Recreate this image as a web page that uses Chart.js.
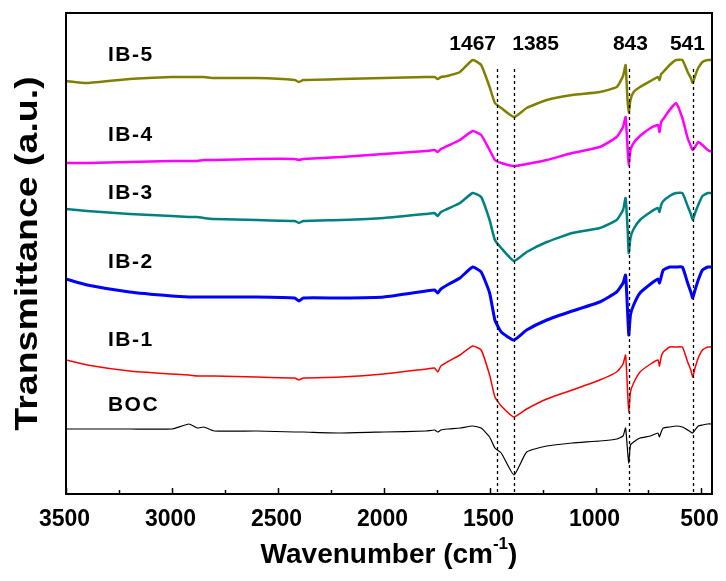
<!DOCTYPE html>
<html>
<head>
<meta charset="utf-8">
<script src="https://cdn.jsdelivr.net/npm/chart.js@4"></script>
<style>
  html, body { margin: 0; padding: 0; background: #fff; }
</style>
</head>
<body>
<canvas id="grafico" width="726" height="581"></canvas>
<script>
// números de onda (cm-1), grade comum a todos os espectros
const numerosOnda = [3500, 3400, 3200, 3000, 2920, 2880, 2850, 2800, 2600, 2420, 2400, 2380,
  2200, 2000, 1800, 1760, 1745, 1730, 1700, 1640, 1580, 1540, 1500, 1475,
  1445, 1385, 1325, 1230, 1110, 980, 900, 870, 858, 849, 843, 835,
  820, 790, 740, 705, 698, 690, 680, 650, 620, 590, 565, 550,
  541, 530, 515, 495, 470, 450];

// transmitância (u.a., já com deslocamento vertical de cada curva)
const ib5 = [413, 411, 415, 417, 417, 417, 417, 416, 416, 414, 412, 414,
  415, 416, 417, 417, 415, 417, 418, 422, 434, 429, 407, 391,
  386, 377, 386, 394, 399, 402, 407, 418, 429, 394, 381, 394,
  402, 407, 413, 417, 414, 420, 422, 429, 434, 434, 422, 416,
  411, 418, 426, 432, 434, 434];
const ib4 = [331, 331, 332, 333, 333, 333, 334, 334, 335, 335, 334, 335,
  337, 340, 343, 344, 342, 345, 348, 354, 363, 359, 344, 334,
  331, 328, 330, 334, 341, 347, 357, 367, 377, 347, 329, 344,
  351, 358, 366, 369, 362, 372, 375, 384, 391, 376, 356, 348,
  344, 347, 352, 349, 344, 342];
const ib3 = [285, 283, 280, 278, 277, 277, 276, 275, 274, 273, 271, 273,
  274, 276, 280, 281, 278, 282, 285, 291, 301, 297, 274, 254,
  246, 233, 242, 252, 261, 266, 274, 284, 296, 267, 241, 256,
  265, 274, 282, 286, 282, 289, 293, 298, 301, 301, 288, 280,
  274, 281, 289, 298, 301, 301];
const ib2 = [215, 209, 202, 198, 197, 197, 197, 197, 197, 196, 193, 196,
  196, 197, 203, 204, 201, 205, 209, 216, 227, 222, 201, 174,
  162, 154, 164, 174, 183, 192, 202, 211, 219, 184, 159, 179,
  189, 201, 210, 215, 211, 217, 224, 227, 227, 227, 211, 202,
  196, 204, 214, 224, 227, 227];
const ib1 = [134, 129, 123, 120, 119, 118, 118, 118, 117, 116, 114, 116,
  117, 120, 125, 126, 122, 128, 132, 139, 148, 144, 119, 97,
  88, 77, 85, 95, 104, 114, 122, 130, 139, 104, 82, 102,
  111, 122, 130, 134, 128, 137, 142, 147, 147, 147, 132, 124,
  117, 126, 136, 144, 147, 147];
const boc = [65, 65, 65, 65, 70, 66, 67, 63, 63, 62, 62, 62,
  61, 62, 63, 64, 62, 64, 65, 66, 68, 66, 57, 46,
  41, 19, 42, 48, 51, 53, 55, 58, 66, 44, 31, 49,
  52, 56, 58, 61, 57, 62, 66, 67, 68, 67, 64, 62,
  61, 64, 68, 69, 70, 70];

const nomes = ['IB-5', 'IB-4', 'IB-3', 'IB-2', 'IB-1', 'BOC'];
const series = [ib5, ib4, ib3, ib2, ib1, boc];
const cores = ['#808000', '#ff00ff', '#008080', '#0000ff', '#ff0000', '#000000'];
const espessuras = [2.5, 2.5, 2.5, 3, 1.5, 1.2];

// posição (u.a.) dos rótulos de cada amostra
const rotuloX = 3302;
const rotuloY = [439, 359, 301, 232, 154, 89];

// bandas marcadas com linha pontilhada
const picos = [1467, 1385, 843, 541];
const picosTextoX = [1580, 1283, 835, 566];
const picosTextoY = 450;
const topoPicos = 425;

// marcas do eixo x
const ticksX = [3500, 3250, 3000, 2750, 2500, 2250, 2000, 1750, 1500, 1250, 1000, 750, 500];

const FONTE = 'Arial, "Liberation Sans", sans-serif';

// desenha moldura, ticks internos, linhas pontilhadas e textos
const marcas = {
  id: 'marcas',
  afterDatasetsDraw(chart) {
    const { ctx, chartArea: a, scales: { x, y } } = chart;
    ctx.save();
    ctx.strokeStyle = '#000';
    ctx.fillStyle = '#000';

    // linhas pontilhadas
    ctx.setLineDash([3, 3]);
    ctx.lineWidth = 1.3;
    picos.forEach(p => {
      const px = Math.round(x.getPixelForValue(p)) + 0.5;
      ctx.beginPath();
      ctx.moveTo(px, y.getPixelForValue(topoPicos));
      ctx.lineTo(px, a.bottom);
      ctx.stroke();
    });
    ctx.setLineDash([]);

    // números das bandas
    ctx.font = 'bold 21px ' + FONTE;
    ctx.textAlign = 'center';
    ctx.textBaseline = 'middle';
    picos.forEach((p, i) => {
      ctx.fillText(String(p), x.getPixelForValue(picosTextoX[i]), y.getPixelForValue(picosTextoY));
    });

    // nomes das amostras
    ctx.font = 'bold 21px ' + FONTE;
    ctx.letterSpacing = '1.5px';
    ctx.textAlign = 'left';
    nomes.forEach((n, i) => {
      ctx.fillText(n, x.getPixelForValue(rotuloX), y.getPixelForValue(rotuloY[i]));
    });
    ctx.letterSpacing = '0px';

    // moldura
    ctx.lineWidth = 2;
    ctx.strokeRect(a.left, a.top, a.right - a.left, a.bottom - a.top);

    // ticks para dentro e números do eixo x
    ctx.lineWidth = 1.5;
    ctx.font = 'bold 23px ' + FONTE;
    ctx.textAlign = 'center';
    ticksX.forEach(t => {
      const px = Math.round(x.getPixelForValue(t)) + 0.5;
      ctx.beginPath();
      ctx.moveTo(px, a.bottom);
      ctx.lineTo(px, a.bottom - (t % 500 === 0 ? 6 : 4));
      ctx.stroke();
      if (t % 500 === 0) ctx.fillText(String(t), px - 2, a.bottom + 26);
    });

    // título do eixo y
    ctx.save();
    ctx.translate(28, (a.top + a.bottom) / 2);
    ctx.rotate(-Math.PI / 2);
    ctx.scale(1.21, 1);
    ctx.font = 'bold 31px ' + FONTE;
    ctx.textAlign = 'center';
    ctx.fillText('Transmittance (a.u.)', 0, 0);
    ctx.restore();

    // título do eixo x com expoente
    const base = 'Wavenumber (cm';
    const expo = '-1';
    const fim = ')';
    ctx.font = 'bold 28px ' + FONTE;
    const wBase = ctx.measureText(base).width;
    const wFim = ctx.measureText(fim).width;
    ctx.font = 'bold 17px ' + FONTE;
    const wExpo = ctx.measureText(expo).width;
    const total = wBase + wExpo + wFim;
    let cx = (a.left + a.right) / 2 - total / 2;
    const cy = 555;
    ctx.textAlign = 'left';
    ctx.font = 'bold 28px ' + FONTE;
    ctx.fillText(base, cx, cy);
    cx += wBase;
    ctx.font = 'bold 17px ' + FONTE;
    ctx.fillText(expo, cx, cy - 11);
    cx += wExpo;
    ctx.font = 'bold 28px ' + FONTE;
    ctx.fillText(fim, cx, cy);

    ctx.restore();
  }
};

const datasets = series.map((valores, i) => ({
  label: nomes[i],
  data: numerosOnda.map((w, j) => ({ x: w, y: valores[j] })),
  borderColor: cores[i],
  borderWidth: espessuras[i],
  pointRadius: 0,
  tension: 0.15,
  fill: false
}));

new Chart(document.getElementById('grafico'), {
  type: 'line',
  data: { datasets },
  options: {
    responsive: false,
    animation: false,
    layout: { padding: { left: 66, right: 14, top: 13, bottom: 87 } },
    plugins: {
      legend: { display: false },
      tooltip: { enabled: false }
    },
    scales: {
      x: {
        type: 'linear',
        display: false,
        reverse: true,
        min: 450,
        max: 3500
      },
      y: {
        display: false,
        min: 0,
        max: 481
      }
    }
  },
  plugins: [marcas]
});
</script>
</body>
</html>
